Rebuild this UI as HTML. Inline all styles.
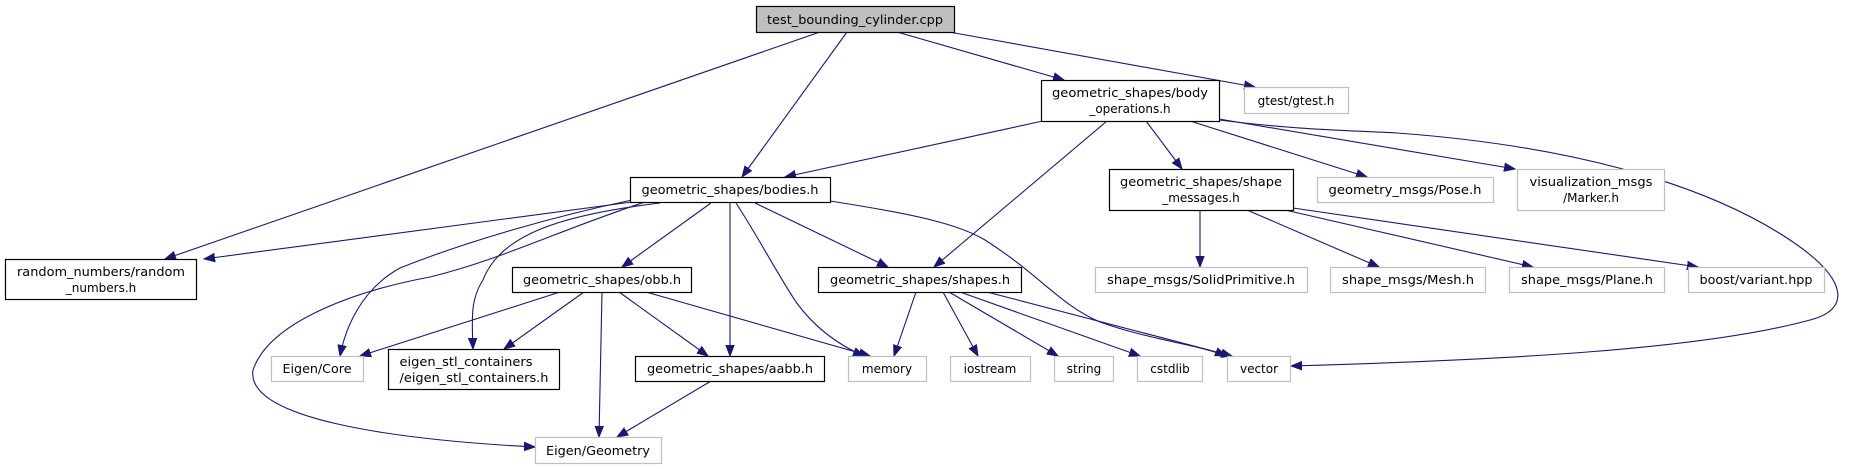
<!DOCTYPE html>
<html><head><meta charset="utf-8"><style>html,body{margin:0;padding:0;background:#fff}svg{display:block}</style></head>
<body>
<svg width="1849" height="469" viewBox="0 0 1849 469" xmlns="http://www.w3.org/2000/svg" font-family="'DejaVu Sans', 'Liberation Sans', sans-serif" font-size="12">
<defs>
<marker id="a" markerWidth="12" markerHeight="10" refX="11" refY="5" orient="auto" markerUnits="userSpaceOnUse">
<path d="M0,0.8 L11,5 L0,9.2 Z" fill="#191970" stroke="#191970"/>
</marker>
</defs>
<g fill="none" stroke="#191970" stroke-width="1.1" marker-end="url(#a)">
<path d="M820,32 L165,259"/>
<path d="M847,32 L742,177"/>
<path d="M897,32 L1064,80"/>
<path d="M949,32 L1255,87"/>
<path d="M1043,121 L785,177"/>
<path d="M1107,121 L934,267"/>
<path d="M1146,121 L1182,169"/>
<path d="M1190,121 L1367,177"/>
<path d="M1219,119 L1515,169"/>
<path d="M1219,120 C1300,130 1340,130 1397,133 C1560,145 1700,180 1790,240 C1850,280 1850,310 1810,320 C1700,350 1500,360 1291,366"/>
<path d="M1200,210 L1200,267"/>
<path d="M1247,210 L1379,267"/>
<path d="M1285,210 L1533,267"/>
<path d="M1293,208 L1698,267"/>
<path d="M632,202 L204,259"/>
<path d="M632,200 C560,215 470,240 400,268 C360,290 345,330 340,356"/>
<path d="M660,203 C560,215 500,235 483,280 C470,300 472,320 473,349"/>
<path d="M645,202 C560,230 500,260 430,277 C360,290 270,320 253,370 C245,420 400,440 535,447"/>
<path d="M711,203 L622,267"/>
<path d="M730,203 L730,356"/>
<path d="M736,203 C760,240 775,270 796,302 C820,335 850,350 864,356"/>
<path d="M755,203 L888,267"/>
<path d="M830,201 C920,215 960,225 985,240 C1040,275 1060,305 1100,322 C1150,340 1200,345 1226,356"/>
<path d="M560,292 L360,356"/>
<path d="M584,292 L504,349"/>
<path d="M602,292 L599,437"/>
<path d="M619,292 L708,356"/>
<path d="M646,292 L870,356"/>
<path d="M711,381 L617,437"/>
<path d="M916,292 L894,356"/>
<path d="M943,292 L978,356"/>
<path d="M949,292 L1058,356"/>
<path d="M960,292 L1140,356"/>
<path d="M987,292 L1232,356"/>
</g>
<g stroke-width="1.2">
<rect x="756.5" y="6.5" width="198" height="26" fill="#bfbfbf" stroke="#000"/>
<rect x="1041.5" y="80.5" width="178" height="41" fill="#fff" stroke="#000"/>
<rect x="1244.5" y="87.5" width="104" height="26" fill="#fff" stroke="#bfbfbf"/>
<rect x="630.5" y="177.5" width="200" height="25" fill="#fff" stroke="#000"/>
<rect x="1109.5" y="169.5" width="184" height="41" fill="#fff" stroke="#000"/>
<rect x="1317.5" y="177.5" width="176" height="25" fill="#fff" stroke="#bfbfbf"/>
<rect x="1517.5" y="169.5" width="147" height="41" fill="#fff" stroke="#bfbfbf"/>
<rect x="5.5" y="259.5" width="191" height="40" fill="#fff" stroke="#000"/>
<rect x="512.5" y="267.5" width="179" height="25" fill="#fff" stroke="#000"/>
<rect x="818.5" y="267.5" width="203" height="25" fill="#fff" stroke="#000"/>
<rect x="1095.5" y="267.5" width="212" height="25" fill="#fff" stroke="#bfbfbf"/>
<rect x="1330.5" y="267.5" width="155" height="25" fill="#fff" stroke="#bfbfbf"/>
<rect x="1509.5" y="267.5" width="155" height="25" fill="#fff" stroke="#bfbfbf"/>
<rect x="1688.5" y="267.5" width="136" height="25" fill="#fff" stroke="#bfbfbf"/>
<rect x="271.5" y="356.5" width="92" height="25" fill="#fff" stroke="#bfbfbf"/>
<rect x="388.5" y="349.5" width="171" height="40" fill="#fff" stroke="#000"/>
<rect x="635.5" y="356.5" width="189" height="25" fill="#fff" stroke="#000"/>
<rect x="848.5" y="356.5" width="78" height="25" fill="#fff" stroke="#bfbfbf"/>
<rect x="950.5" y="356.5" width="80" height="25" fill="#fff" stroke="#bfbfbf"/>
<rect x="1054.5" y="356.5" width="59" height="25" fill="#fff" stroke="#bfbfbf"/>
<rect x="1137.5" y="356.5" width="65" height="25" fill="#fff" stroke="#bfbfbf"/>
<rect x="1227.5" y="356.5" width="63" height="25" fill="#fff" stroke="#bfbfbf"/>
<rect x="535.5" y="437.5" width="126" height="26" fill="#fff" stroke="#bfbfbf"/>
</g>
<g fill="#000" text-anchor="middle" lengthAdjust="spacingAndGlyphs">
<text x="855" y="24" textLength="176" lengthAdjust="spacingAndGlyphs">test_bounding_cylinder.cpp</text>
<text x="1130" y="97" textLength="156" lengthAdjust="spacingAndGlyphs">geometric_shapes/body</text>
<text x="1130" y="113">_operations.h</text>
<text x="1296" y="105">gtest/gtest.h</text>
<text x="730" y="194" textLength="177" lengthAdjust="spacingAndGlyphs">geometric_shapes/bodies.h</text>
<text x="1201" y="186" textLength="162" lengthAdjust="spacingAndGlyphs">geometric_shapes/shape</text>
<text x="1201" y="202">_messages.h</text>
<text x="1405" y="194" textLength="153" lengthAdjust="spacingAndGlyphs">geometry_msgs/Pose.h</text>
<text x="1591" y="186" textLength="123" lengthAdjust="spacingAndGlyphs">visualization_msgs</text>
<text x="1591" y="202">/Marker.h</text>
<text x="101" y="276" textLength="168" lengthAdjust="spacingAndGlyphs">random_numbers/random</text>
<text x="101" y="292">_numbers.h</text>
<text x="602" y="284" textLength="158" lengthAdjust="spacingAndGlyphs">geometric_shapes/obb.h</text>
<text x="920" y="284" textLength="180" lengthAdjust="spacingAndGlyphs">geometric_shapes/shapes.h</text>
<text x="1201" y="284" textLength="188" lengthAdjust="spacingAndGlyphs">shape_msgs/SolidPrimitive.h</text>
<text x="1408" y="284" textLength="132" lengthAdjust="spacingAndGlyphs">shape_msgs/Mesh.h</text>
<text x="1587" y="284" textLength="132" lengthAdjust="spacingAndGlyphs">shape_msgs/Plane.h</text>
<text x="1756" y="284" textLength="113" lengthAdjust="spacingAndGlyphs">boost/variant.hpp</text>
<text x="317" y="373" textLength="69" lengthAdjust="spacingAndGlyphs">Eigen/Core</text>
<text x="466" y="366" textLength="133" lengthAdjust="spacingAndGlyphs">eigen_stl_containers</text>
<text x="474" y="382" textLength="149" lengthAdjust="spacingAndGlyphs">/eigen_stl_containers.h</text>
<text x="730" y="373" textLength="166" lengthAdjust="spacingAndGlyphs">geometric_shapes/aabb.h</text>
<text x="887" y="373">memory</text>
<text x="990" y="373">iostream</text>
<text x="1084" y="373">string</text>
<text x="1170" y="373">cstdlib</text>
<text x="1259" y="373">vector</text>
<text x="598" y="455" textLength="104" lengthAdjust="spacingAndGlyphs">Eigen/Geometry</text>
</g>
</svg>
</body></html>
